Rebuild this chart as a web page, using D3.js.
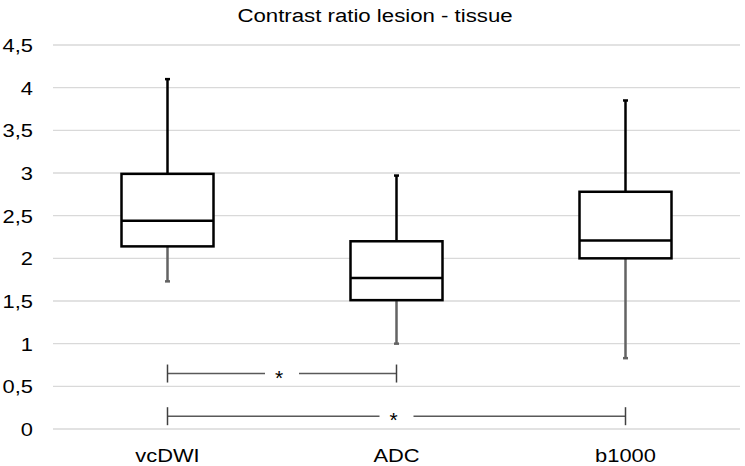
<!DOCTYPE html>
<html>
<head>
<meta charset="utf-8">
<script src="https://cdn.jsdelivr.net/npm/d3@7"></script>
<style>
  body { margin: 0; background: #fff; }
  text { font-family: "Liberation Sans", Arial, sans-serif; fill: #000; }
</style>
</head>
<body>
<svg id="chart" width="745" height="466"></svg>
<script>
// data
const categories = ["vcDWI", "ADC", "b1000"];
const maxValues = [4.10, 2.97, 3.85];
const q3Values = [2.99, 2.20, 2.78];
const medianValues = [2.44, 1.77, 2.21];
const q1Values = [2.14, 1.51, 2.00];
const minValues = [1.73, 1.00, 0.83];
const yTicks = [0, 0.5, 1, 1.5, 2, 2.5, 3, 3.5, 4, 4.5];
const brackets = [
    { from: "vcDWI", to: "ADC", level: 0.65, label: "*" },
    { from: "vcDWI", to: "b1000", level: 0.15, label: "*" }
];
const title = "Contrast ratio lesion - tissue";

const boxes = categories.map((c, i) => ({
    cat: c, max: maxValues[i], q3: q3Values[i], med: medianValues[i], q1: q1Values[i], min: minValues[i]
}));

const svg = d3.select("#chart");
const margin = { top: 45, right: 5, bottom: 37, left: 53 };
const width = 745 - margin.left - margin.right;
const height = 466 - margin.top - margin.bottom;

const g = svg.append("g").attr("transform", `translate(${margin.left},${margin.top})`);

const xScale = d3.scaleBand().domain(categories).range([0, width]);
const yScale = d3.scaleLinear().domain([0, 4.5]).range([height, 0]);
const fmt = d => String(d).replace(".", ",");

// the original text is a bit wider than normal
const stretch = 1.17;

// grid
g.selectAll('.grid')
    .data(yTicks)
    .enter()
    .append('line')
    .attr('class', 'grid')
    .attr('x1', 0)
    .attr('x2', width)
    .attr('y1', d => yScale(d))
    .attr('y2', d => yScale(d))
    .style('stroke', '#d9d9d9')
    .style('stroke-width', 1.3);

// y labels
g.selectAll('.ylab')
    .data(yTicks)
    .enter()
    .append('text')
    .attr('class', 'ylab')
    .attr('transform', d => `translate(-20,${yScale(d) + 7}) scale(${stretch},1)`)
    .attr('text-anchor', 'end')
    .style('font-size', '18.7px')
    .text(fmt);

// x labels
g.selectAll('.xlab')
    .data(categories)
    .enter()
    .append('text')
    .attr('class', 'xlab')
    .attr('transform', d => `translate(${xScale(d) + xScale.bandwidth() / 2},${height + 33}) scale(${stretch},1)`)
    .attr('text-anchor', 'middle')
    .style('font-size', '18.7px')
    .text(d => d);

// title
svg.append('text')
    .attr('transform', `translate(375,21.5) scale(${stretch},1)`)
    .attr('text-anchor', 'middle')
    .style('font-size', '19px')
    .text(title);

const cx = d => xScale(d) + xScale.bandwidth() / 2;
const boxW = 92;
const capW = 5;

const box = g.selectAll('.box')
    .data(boxes)
    .enter()
    .append('g')
    .attr('class', 'box');

// lower whisker (gray)
box.append('line')
    .attr('x1', d => cx(d.cat)).attr('x2', d => cx(d.cat))
    .attr('y1', d => yScale(d.q1)).attr('y2', d => yScale(d.min))
    .style('stroke', '#636363').style('stroke-width', 2.5);
box.append('line')
    .attr('x1', d => cx(d.cat) - capW / 2).attr('x2', d => cx(d.cat) + capW / 2)
    .attr('y1', d => yScale(d.min)).attr('y2', d => yScale(d.min))
    .style('stroke', '#636363').style('stroke-width', 2.5);

// upper whisker (black)
box.append('line')
    .attr('x1', d => cx(d.cat)).attr('x2', d => cx(d.cat))
    .attr('y1', d => yScale(d.q3)).attr('y2', d => yScale(d.max))
    .style('stroke', '#000').style('stroke-width', 2.5);
box.append('line')
    .attr('x1', d => cx(d.cat) - capW / 2).attr('x2', d => cx(d.cat) + capW / 2)
    .attr('y1', d => yScale(d.max)).attr('y2', d => yScale(d.max))
    .style('stroke', '#000').style('stroke-width', 2.5);

// box
box.append('rect')
    .attr('x', d => cx(d.cat) - boxW / 2)
    .attr('y', d => yScale(d.q3))
    .attr('width', boxW)
    .attr('height', d => yScale(d.q1) - yScale(d.q3))
    .style('fill', '#fff')
    .style('stroke', '#000')
    .style('stroke-width', 2.5);

// median
box.append('line')
    .attr('x1', d => cx(d.cat) - boxW / 2).attr('x2', d => cx(d.cat) + boxW / 2)
    .attr('y1', d => yScale(d.med)).attr('y2', d => yScale(d.med))
    .style('stroke', '#000').style('stroke-width', 2.5);

// significance brackets
const br = g.selectAll('.bracket')
    .data(brackets)
    .enter()
    .append('g')
    .attr('class', 'bracket');

const gapHalf = 17;
br.append('line')
    .attr('x1', d => cx(d.from))
    .attr('x2', d => (cx(d.from) + cx(d.to)) / 2 - gapHalf)
    .attr('y1', d => yScale(d.level)).attr('y2', d => yScale(d.level))
    .style('stroke', '#595959').style('stroke-width', 1.5);
br.append('line')
    .attr('x1', d => (cx(d.from) + cx(d.to)) / 2 + gapHalf)
    .attr('x2', d => cx(d.to))
    .attr('y1', d => yScale(d.level)).attr('y2', d => yScale(d.level))
    .style('stroke', '#595959').style('stroke-width', 1.5);
['from', 'to'].forEach(k => {
    br.append('line')
        .attr('x1', d => cx(d[k])).attr('x2', d => cx(d[k]))
        .attr('y1', d => yScale(d.level) - 9).attr('y2', d => yScale(d.level) + 9)
        .style('stroke', '#404040').style('stroke-width', 1.5);
});
br.append('text')
    .attr('x', d => (cx(d.from) + cx(d.to)) / 2 - 3)
    .attr('y', d => yScale(d.level) + 11)
    .attr('text-anchor', 'middle')
    .style('font-size', '21px')
    .text(d => d.label);
</script>
</body>
</html>
